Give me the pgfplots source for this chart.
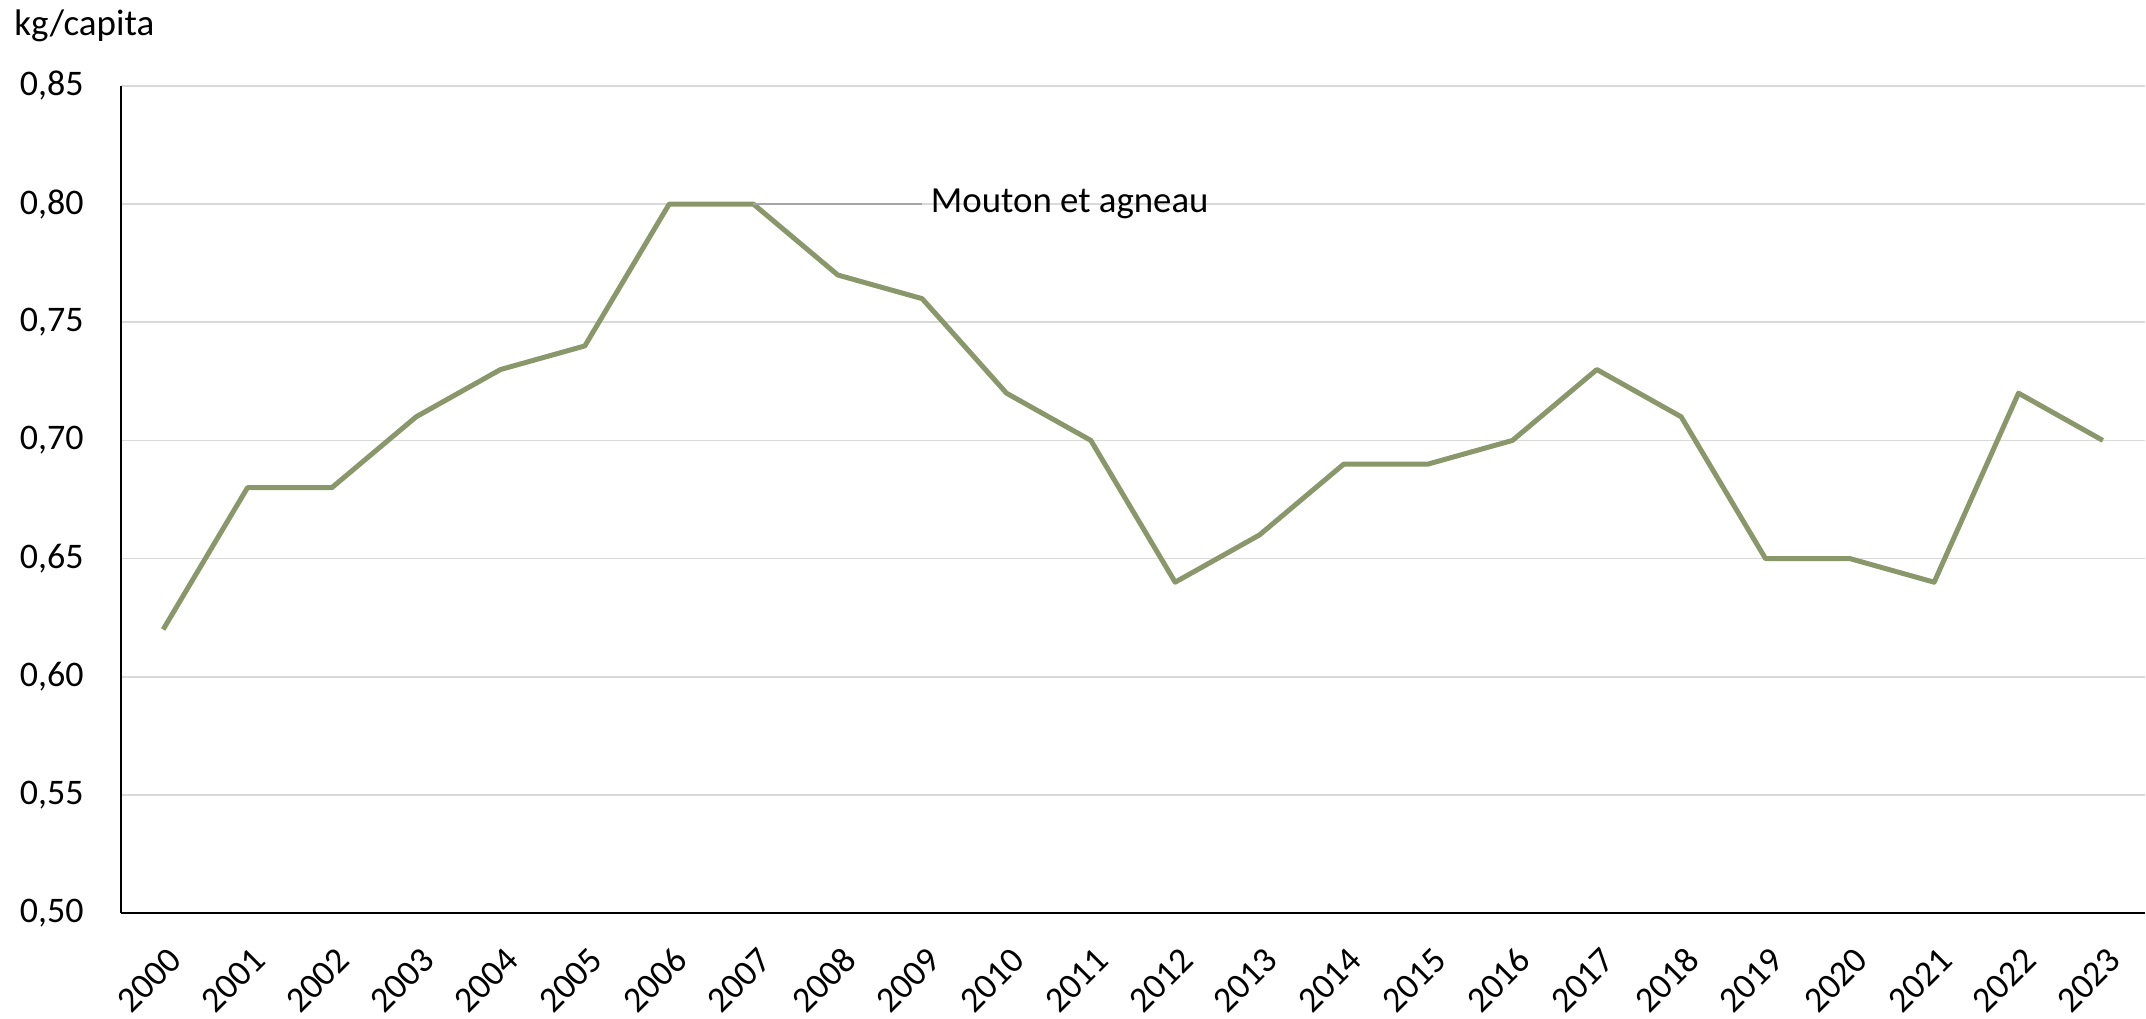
\documentclass[border=0pt]{standalone}
\usepackage{pgfplots}
\pgfplotsset{compat=1.18}
\usepackage{fontspec}
\setmainfont{Carlito}
\definecolor{lineolive}{RGB}{137,151,106}
\definecolor{gridgray}{RGB}{217,217,217}
\definecolor{leadgray}{RGB}{165,165,165}
\begin{document}
\fontsize{18pt}{21pt}\selectfont
\begin{tikzpicture}
\useasboundingbox (-60.5pt,-52.5pt) rectangle (1012.5pt,456.5pt);
\begin{axis}[
  scale only axis,
  width=1012pt, height=413.5pt,
  xmin=-0.5, xmax=23.5,
  ymin=0.5, ymax=0.85,
  ytick={0.50,0.55,0.60,0.65,0.70,0.75,0.80,0.85},
  xtick={0,...,23},
  xticklabels={2000,2001,2002,2003,2004,2005,2006,2007,2008,2009,2010,2011,2012,2013,2014,2015,2016,2017,2018,2019,2020,2021,2022,2023},
  major tick length=0pt,
  axis x line*=bottom, axis y line*=left,
  axis line style={black, line width=0.8pt, -},
  ymajorgrids, grid style={gridgray, line width=0.8pt},
  tick label style={font=\fontsize{18pt}{21pt}\selectfont},
  /pgf/number format/assume math mode=true,
  /pgf/number format/use comma,
  /pgf/number format/fixed,
  /pgf/number format/fixed zerofill,
  /pgf/number format/precision=2,
  yticklabel style={anchor=east, inner sep=0pt, xshift=-18.5pt},
  xticklabel style={xshift=6pt, yshift=-20.5pt, rotate=45, anchor=east, inner sep=0pt},
  clip=false,
]
\addplot[lineolive, line width=2.5pt, line join=round, no marks] coordinates {
(0,0.62) (1,0.68) (2,0.68) (3,0.71) (4,0.73) (5,0.74) (6,0.80) (7,0.80)
(8,0.77) (9,0.76) (10,0.72) (11,0.70) (12,0.64) (13,0.66) (14,0.69) (15,0.69)
(16,0.70) (17,0.73) (18,0.71) (19,0.65) (20,0.65) (21,0.64) (22,0.72) (23,0.70)
};
\draw[leadgray, line width=0.8pt] (axis cs:7,0.80) -- (axis cs:9.0,0.80);
\node[anchor=west, inner sep=0pt, font=\fontsize{18.4pt}{21pt}\selectfont] at (axis cs:9.1,0.80) {Mouton et agneau};
\node[anchor=west, inner sep=0pt, font=\fontsize{18.5pt}{21pt}\selectfont] at ([xshift=-53.5pt, yshift=30pt]rel axis cs:0,1) {kg/capita};
\end{axis}
\end{tikzpicture}
\end{document}
